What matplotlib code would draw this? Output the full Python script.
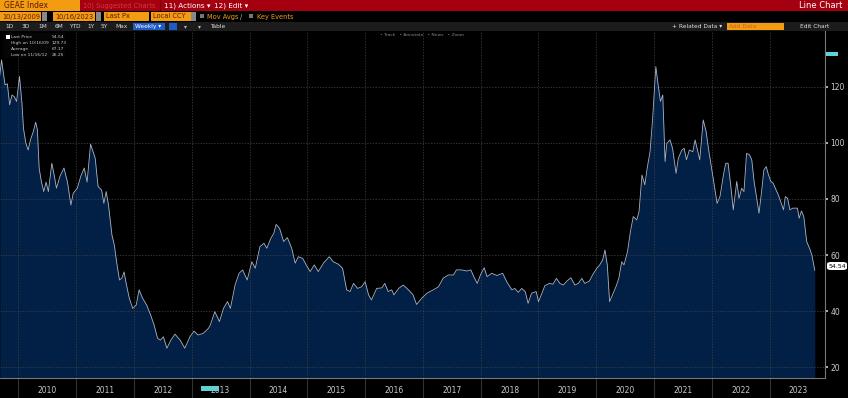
import matplotlib
matplotlib.use("Agg")
import matplotlib.pyplot as plt
from matplotlib.patches import Rectangle, FancyBboxPatch
from matplotlib.ticker import FixedLocator, NullFormatter, FixedFormatter

# weekly-ish closes (fractional year, index level)
years = [
    2009.68, 2009.71, 2009.77, 2009.81, 2009.85, 2009.89, 2009.93, 2009.97, 2010.02, 2010.06,
    2010.09, 2010.13, 2010.17, 2010.21, 2010.26, 2010.30, 2010.33, 2010.36, 2010.40, 2010.44,
    2010.48, 2010.52, 2010.58, 2010.62, 2010.66, 2010.72, 2010.79, 2010.85, 2010.91, 2010.95,
    2011.02, 2011.08, 2011.14, 2011.19, 2011.25, 2011.33, 2011.38, 2011.44, 2011.48, 2011.52,
    2011.56, 2011.62, 2011.66, 2011.70, 2011.75, 2011.79, 2011.83, 2011.86, 2011.92, 2011.98,
    2012.04, 2012.09, 2012.15, 2012.22, 2012.29, 2012.35, 2012.41, 2012.46, 2012.51, 2012.57,
    2012.64, 2012.71, 2012.80, 2012.88, 2012.97, 2013.04, 2013.11, 2013.20, 2013.29,
    2013.32, 2013.40, 2013.48, 2013.55, 2013.62, 2013.67, 2013.75, 2013.82, 2013.88, 2013.96,
    2014.04, 2014.10, 2014.18, 2014.25, 2014.30, 2014.37, 2014.42, 2014.46, 2014.52, 2014.59,
    2014.655, 2014.73, 2014.79, 2014.845, 2014.92, 2014.98, 2015.05, 2015.12, 2015.19, 2015.28,
    2015.38, 2015.45, 2015.54, 2015.61, 2015.68, 2015.74, 2015.80, 2015.87, 2015.94, 2016.00,
    2016.06, 2016.11, 2016.20, 2016.29, 2016.34, 2016.40, 2016.46, 2016.50, 2016.58, 2016.66,
    2016.75, 2016.83, 2016.89, 2016.98, 2017.07, 2017.18, 2017.27, 2017.35, 2017.44, 2017.53,
    2017.58, 2017.67, 2017.76, 2017.83, 2017.88, 2017.94, 2018.00, 2018.06, 2018.11, 2018.19,
    2018.28, 2018.38, 2018.45, 2018.54, 2018.59, 2018.65, 2018.71, 2018.77, 2018.82, 2018.88,
    2018.96, 2019.00, 2019.06, 2019.11, 2019.19, 2019.25, 2019.31, 2019.37, 2019.43, 2019.49,
    2019.56, 2019.63, 2019.69, 2019.75, 2019.80, 2019.88, 2019.94, 2020.01, 2020.06, 2020.11,
    2020.15, 2020.19, 2020.23, 2020.28, 2020.34, 2020.39, 2020.44, 2020.48, 2020.54, 2020.59,
    2020.64, 2020.70, 2020.74, 2020.79, 2020.84, 2020.88, 2020.93, 2020.975, 2021.03, 2021.07,
    2021.11, 2021.15, 2021.19, 2021.22, 2021.275, 2021.32, 2021.38, 2021.42, 2021.48, 2021.52,
    2021.56, 2021.61, 2021.67, 2021.71, 2021.77, 2021.79, 2021.85, 2021.90, 2021.94, 2021.98,
    2022.04, 2022.09, 2022.14, 2022.20, 2022.24, 2022.28, 2022.325, 2022.37, 2022.43, 2022.47,
    2022.515, 2022.555, 2022.60, 2022.65, 2022.69, 2022.73, 2022.775, 2022.815, 2022.86, 2022.90,
    2022.94, 2022.98, 2023.02, 2023.06, 2023.11, 2023.15, 2023.19, 2023.24, 2023.27, 2023.31,
    2023.35, 2023.40, 2023.44, 2023.48, 2023.51, 2023.55, 2023.59, 2023.64, 2023.69, 2023.73,
    2023.78,
]
prices = [
    124.0, 129.5, 120.6, 121.0, 113.5, 117.0, 116.4, 114.7, 123.6, 114.7,
    105.0, 99.8, 97.4, 101.0, 104.0, 107.3, 104.6, 91.0, 86.0, 82.6,
    86.0, 82.6, 92.7, 88.5, 83.8, 88.0, 91.0, 86.0, 77.8, 82.0,
    83.8, 88.0, 91.0, 86.0, 99.5, 94.5, 84.4, 83.2, 78.4, 82.6,
    77.8, 67.1, 63.6, 57.6, 51.1, 51.7, 54.0, 50.5, 44.6, 41.0,
    42.2, 47.6, 44.6, 42.2, 38.6, 35.0, 30.3, 29.7, 30.9, 26.8,
    29.7, 31.8, 29.7, 26.8, 30.9, 32.9, 31.5, 32.1, 33.9,
    35.0, 39.8, 36.3, 41.0, 43.4, 41.0, 49.3, 53.5, 54.7, 51.1,
    57.6, 55.3, 63.0, 64.2, 62.4, 66.0, 67.7, 70.9, 69.5, 64.8,
    66.2, 62.4, 57.1, 59.4, 58.8, 56.5, 54.1, 56.5, 54.1, 57.1,
    59.4, 57.6, 56.7, 55.3, 47.6, 47.0, 49.9, 48.1, 48.7, 50.5,
    45.8, 44.0, 48.1, 48.3, 49.9, 47.0, 47.6, 45.8, 48.1, 49.3,
    47.6, 45.8, 42.4, 44.6, 46.4, 47.6, 48.7, 51.7, 52.9, 52.9,
    54.7, 54.7, 54.3, 54.7, 52.3, 49.9, 53.1, 55.5, 52.3, 53.5,
    52.7, 53.5, 50.5, 47.6, 48.1, 46.7, 48.1, 47.0, 42.8, 46.4,
    47.0, 43.4, 46.4, 49.1, 49.9, 49.6, 51.7, 49.9, 49.3, 50.7,
    51.9, 49.3, 49.9, 51.7, 49.9, 50.7, 53.1, 55.3, 56.5, 58.2,
    61.8, 56.5, 43.4, 45.8, 48.7, 51.7, 57.6, 56.5, 61.2, 68.3,
    73.7, 72.5, 75.5, 88.5, 85.0, 90.9, 96.8, 108.7, 127.1, 120.6,
    114.7, 117.0, 93.3, 99.8, 101.0, 98.0, 89.1, 94.5, 97.4, 98.0,
    93.9, 97.4, 96.8, 101.0, 95.7, 93.9, 108.1, 104.0, 98.0, 92.7,
    85.0, 78.4, 80.8, 88.5, 92.7, 92.7, 85.0, 76.1, 86.2, 80.2,
    83.8, 82.6, 96.2, 95.7, 93.9, 86.2, 80.2, 74.9, 82.6, 90.3,
    91.5, 88.5, 86.2, 85.6, 83.2, 81.4, 79.0, 76.1, 80.8, 80.2,
    76.1, 76.7, 76.7, 76.7, 73.1, 75.7, 73.7, 64.8, 62.4, 60.0,
    54.54,
]
year_labels = [str(y) for y in range(2010, 2024)]
y_ticks = [20, 40, 60, 80, 100, 120]

W, H = 848, 398
fig = plt.figure(figsize=(W / 100, H / 100), dpi=100)
fig.patch.set_facecolor("black")

def box(x, y, w, h, color, **kw):
    # pixel coords from the top-left corner
    fig.patches.append(Rectangle((x / W, 1 - (y + h) / H), w / W, h / H,
                                 transform=fig.transFigure, facecolor=color,
                                 edgecolor="none", **kw))

def txt(x, y, s, color="white", size=5.5, **kw):
    fig.text(x / W, 1 - y / H, s, color=color, fontsize=size, va="center", **kw)

orange = "#f39c12"
red = "#a5000f"

# header bar
box(0, 0, W, 11, red)
box(0, 0, 80, 11, orange)
txt(4, 5.5, "GEAE Index", color="#5a1a00", size=5.5)
txt(83, 5.5, "10) Suggested Charts", color="#d23a3a", size=4.8)
box(160, 0, 1, 11, "#700008")
txt(164, 5.5, "11) Actions \u25be", size=5.2)
txt(214, 5.5, "12) Edit \u25be", size=5.2)
txt(842, 5.5, "Line Chart", size=6, ha="right")

# date / field row
box(0, 12, 41, 9, orange)
txt(2, 16.5, "10/13/2009", color="#5a1a00", size=4.8)
box(42, 12, 5, 9, "#888888")
box(53, 12, 42, 9, orange)
txt(55, 16.5, "10/16/2023", color="#5a1a00", size=4.8)
box(96, 12, 5, 9, "#888888")
box(104, 12, 45, 9, orange)
txt(106, 16.5, "Last Px", color="#5a1a00", size=4.8)
box(151, 12, 40, 9, orange)
txt(153, 16.5, "Local CCY", color="#5a1a00", size=4.8)
box(191, 12, 5, 9, "#888888")
box(200, 14, 4, 4, "#777777")
txt(207, 16.5, "Mov Avgs", color=orange, size=4.8)
txt(240, 16.5, "/", color="#bbbbbb", size=4.8)
box(249, 14, 4, 4, "#777777")
txt(257, 16.5, "Key Events", color=orange, size=4.8)

# toolbar row
box(0, 22, W, 9, "#1c1c1c")
for lab, xx in zip(["1D", "3D", "1M", "6M", "YTD", "1Y", "5Y", "Max"],
                   [5, 21, 38, 55, 69, 87, 101, 115]):
    txt(xx, 26.5, lab, color="#dddddd", size=4.2)
box(133, 23, 32, 7, "#1e5bc6")
txt(135, 26.5, "Weekly \u25be", color="white", size=4.2)
box(169, 23, 8, 7, "#1e5bc6")
txt(184, 26.5, "\u25be", color="#bbbbbb", size=4.2)
txt(198, 26.5, "\u25be", color="#bbbbbb", size=4.2)
txt(210, 26.5, "Table", color="#dddddd", size=4.2)
txt(672, 26.5, "+ Related Data \u25be", color="#dddddd", size=4.2)
box(727, 23, 57, 7, orange)
txt(729, 26.5, "Add Data", color="#c0651a", size=4.2)
txt(800, 26.5, "Edit Chart", color="#dddddd", size=4.2)

# main chart
ax = fig.add_axes([0, 1 - 378 / H, 825 / W, (378 - 31) / H])
ax.set_facecolor("black")
ax.fill_between(years, prices, 0, color="#021f45", lw=0)
ax.plot(years, prices, color="#aab4c4", lw=0.6)
ax.set_xlim(2009.683, 2023.957)
ax.set_ylim(16.2, 139.8)

ax.yaxis.tick_right()
ax.set_yticks(y_ticks)
ax.tick_params(axis="y", colors="#cccccc", labelsize=5.5, length=2, width=1.2, pad=2)
ax.xaxis.set_major_locator(FixedLocator(list(range(2010, 2024))))
ax.xaxis.set_major_formatter(NullFormatter())
ax.xaxis.set_minor_locator(FixedLocator([y + 0.5 for y in range(2010, 2024)]))
ax.xaxis.set_minor_formatter(FixedFormatter(year_labels))
ax.tick_params(axis="x", which="major", direction="out", length=15, color="#333333", width=0.8)
ax.tick_params(axis="x", which="minor", length=0, colors="#c8c8c8", labelsize=5.5, pad=6)
ax.grid(True, which="major", color="#444444", linestyle=(0, (2, 2)), lw=0.5)
for s in ["top", "left"]:
    ax.spines[s].set_visible(False)
ax.spines["right"].set_color("#777777")
ax.spines["bottom"].set_color("#777777")

# legend box top-left
box(3, 33, 62, 25, "#050505")
leg = [("Last Price", "54.54"), ("High on 10/16/09", "129.73"),
       ("Average", "67.17"), ("Low on 11/16/12", "26.25")]
for i, (a, b) in enumerate(leg):
    txt(11, 37 + i * 6, a, color="#cccccc", size=3.2)
    txt(52, 37 + i * 6, b, color="#cccccc", size=3.2)
box(6, 35, 4, 4, "white")
txt(380, 35, "\u2022 Track   \u2022 Annotate   \u2022 News   \u2022 Zoom", color="#888888", size=3.2)

# right side markers
box(826, 52, 12, 4, "#5fd3d3")
fig.patches.append(FancyBboxPatch((827 / W, 1 - 270 / H), 20 / W, 8 / H,
                                  boxstyle="round,pad=0,rounding_size=0.005",
                                  transform=fig.transFigure, facecolor="white",
                                  edgecolor="none"))
txt(837, 266, "54.54", color="black", size=4.5, ha="center")
box(201, 386, 18, 5, "#5fd3d3")

fig.savefig("out.png", dpi=100, facecolor=fig.get_facecolor())
